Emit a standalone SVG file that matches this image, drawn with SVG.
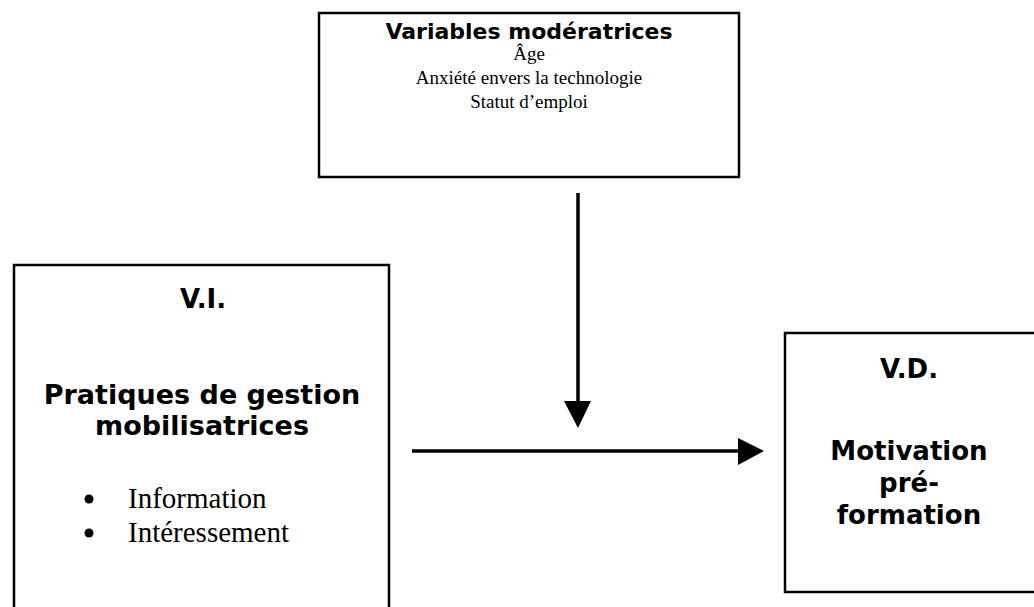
<svg xmlns="http://www.w3.org/2000/svg" width="1034" height="607" viewBox="0 0 1034 607">
<style>
.box{fill:#fff;stroke:#000;stroke-width:2.5}
.h{font-family:"DejaVu Sans",Verdana,sans-serif;font-weight:bold;text-anchor:middle;fill:#000}
.s{font-family:"Liberation Serif","Times New Roman",serif;fill:#000}
.c{stroke:#000;stroke-width:3.5;fill:none}
</style>
<rect width="1034" height="607" fill="#fff"/>
<g id="moderatrices">
<rect class="box" x="319" y="13" width="420" height="164"/>
<text class="h" x="529" y="39" font-size="22">Variables modératrices</text>
<text class="s" x="529" y="60" font-size="19" text-anchor="middle">Âge</text>
<text class="s" x="529" y="84" font-size="19" text-anchor="middle">Anxiété envers la technologie</text>
<text class="s" x="529" y="108" font-size="19" text-anchor="middle">Statut d’emploi</text>
</g>
<g id="vi">
<rect class="box" x="14" y="265" width="375" height="360"/>
<text class="h" x="203" y="308" font-size="26">V.I.</text>
<text class="h" x="202" y="404" font-size="27">Pratiques de gestion</text>
<text class="h" x="202" y="435" font-size="27">mobilisatrices</text>
<circle cx="89" cy="499" r="4.5"/>
<circle cx="89" cy="533" r="4.5"/>
<text class="s" x="128" y="508" font-size="29">Information</text>
<text class="s" x="128" y="542" font-size="29">Intéressement</text>
</g>
<g id="vd">
<rect class="box" x="785" y="333" width="270" height="259"/>
<text class="h" x="909" y="378" font-size="26">V.D.</text>
<text class="h" x="909" y="460" font-size="26">Motivation</text>
<text class="h" x="909" y="492" font-size="26">pré-</text>
<text class="h" x="909" y="524" font-size="26">formation</text>
</g>
<g id="connectors">
<line class="c" x1="578" y1="193" x2="578" y2="403"/>
<path d="M564,401 L591,401 L578,428 Z" fill="#000"/>
<line class="c" x1="412" y1="451" x2="740" y2="451"/>
<path d="M738,438 L764,451 L738,465 Z" fill="#000"/>
</g>
</svg>
